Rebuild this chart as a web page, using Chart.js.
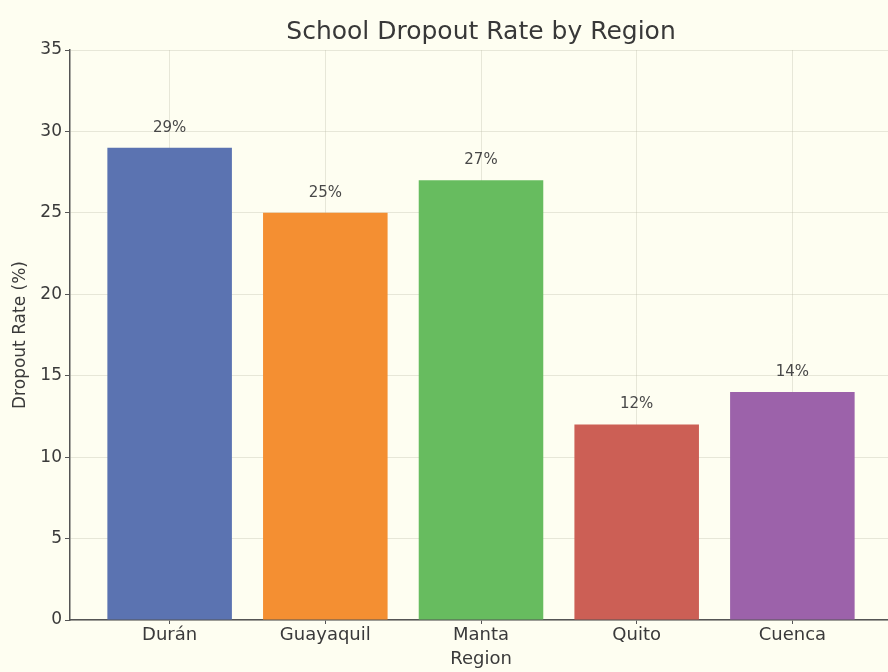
<!DOCTYPE html>
<html>
<head>
<meta charset="utf-8">
<script src="https://cdn.jsdelivr.net/npm/chart.js@4"></script>
<style>
  html, body { margin: 0; padding: 0; overflow: hidden; background: #fefef1; }
  #wrap { width: 888px; height: 672px; overflow: hidden; }
</style>
</head>
<body>
<div id="wrap"><canvas id="dropoutChart" width="896" height="672"></canvas></div>
<script>
const regions = ["Durán", "Guayaquil", "Manta", "Quito", "Cuenca"];
const dropoutRates = [29, 25, 27, 12, 14];
const barColors = ["#5b73b1", "#f48f32", "#67bc5f", "#cc5f55", "#9c62aa"];
const yTicks = [0, 5, 10, 15, 20, 25, 30, 35];

const font = "'DejaVu Sans', sans-serif";
const textColor = "#3a3a3a";

// title centred over the plot area, like matplotlib does
const plotTitle = {
  id: "plotTitle",
  afterDraw(chart) {
    const { ctx, chartArea } = chart;
    ctx.save();
    ctx.font = "25px " + font;
    ctx.fillStyle = "#383838";
    ctx.textAlign = "center";
    ctx.textBaseline = "middle";
    ctx.fillText("School Dropout Rate by Region", (chartArea.left + chartArea.right) / 2, 32);
    ctx.restore();
  },
};

// percentage labels above each bar
const barLabels = {
  id: "barLabels",
  afterDatasetsDraw(chart) {
    const { ctx } = chart;
    const meta = chart.getDatasetMeta(0);
    ctx.save();
    ctx.font = "15px " + font;
    ctx.fillStyle = "#484848";
    ctx.textAlign = "center";
    ctx.textBaseline = "middle";
    meta.data.forEach((bar, i) => {
      ctx.fillText(dropoutRates[i] + "%", bar.x, bar.y - 20);
    });
    ctx.restore();
  },
};

const bgPlugin = {
  id: "bg",
  beforeDraw(chart) {
    const { ctx, width, height } = chart;
    ctx.save();
    ctx.fillStyle = "#fefef1";
    ctx.fillRect(0, 0, width, height);
    ctx.restore();
  },
};

const ctx = document.getElementById("dropoutChart").getContext("2d");

new Chart(ctx, {
  type: "bar",
  data: {
    datasets: [
      {
        data: dropoutRates.map((v, i) => ({ x: i, y: v })),
        backgroundColor: barColors,
        borderWidth: 0,
        categoryPercentage: 0.8,
        barPercentage: 1,
      },
    ],
  },
  options: {
    responsive: false,
    animation: false,
    devicePixelRatio: 1,
    layout: { padding: { top: 50, right: 4, left: 0, bottom: 0 } },
    plugins: {
      legend: { display: false },
      tooltip: { enabled: false },
      title: { display: false },
    },
    scales: {
      x: {
        type: "linear",
        offset: false,
        min: -0.64,
        max: 4.64,
        afterBuildTicks: (scale) => {
          scale.ticks = regions.map((r, i) => ({ value: i }));
        },
        afterFit: (scale) => { scale.height = 52; },
        ticks: {
          callback: (value) => regions[value] ?? "",
          color: textColor,
          font: { family: font, size: 18 },
          padding: 1,
          maxRotation: 0,
        },
        grid: {
          offset: false,
          color: "rgba(190,190,170,0.35)",
          tickLength: 4,
          tickColor: "#555",
        },
        border: { color: "#555", width: 1.5 },
        title: {
          display: true,
          text: "Region",
          color: textColor,
          font: { family: font, size: 18 },
          padding: { top: 0, bottom: 2 },
        },
      },
      y: {
        min: 0,
        max: 35,
        afterBuildTicks: (scale) => {
          scale.ticks = yTicks.map((v) => ({ value: v }));
        },
        afterFit: (scale) => { scale.width = 70; },
        ticks: {
          color: textColor,
          font: { family: font, size: 17 },
          padding: 3,
        },
        grid: {
          color: "rgba(190,190,170,0.35)",
          tickLength: 5,
          tickColor: "#555",
        },
        border: { color: "#555", width: 1.5 },
        title: {
          display: true,
          text: "Dropout Rate (%)",
          color: textColor,
          font: { family: font, size: 17 },
          padding: { top: 10, bottom: 0 },
        },
      },
    },
  },
  plugins: [bgPlugin, barLabels, plotTitle],
});
</script>
</body>
</html>
